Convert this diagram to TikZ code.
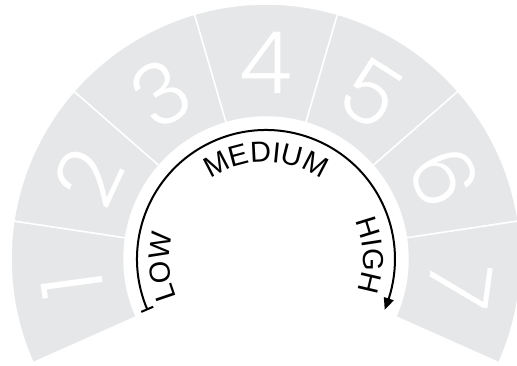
\documentclass[tikz,border=0pt]{standalone}
\usepackage{fontspec}
\setmainfont{Liberation Sans}
\newfontfamily\digitfont{Poppins Light}
\usetikzlibrary{arrows.meta,bending,decorations.text}
\definecolor{DialGray}{HTML}{E6E7E8}
\newcommand\lblfont{\fontsize{29}{29}\selectfont}

\begin{document}
\begin{tikzpicture}[
  sector/.style={fill=DialGray,draw=white,line width=1.5pt},
  digit/.style={text=white,font=\digitfont\fontsize{86}{86}\selectfont,inner sep=0pt},
  gauge/.style={line width=2pt,{Bar[width=13pt]}-{Triangle[length=12pt,width=10pt,bend]}},
  lbl/.style={decorate,decoration={text along path,text align=center,text={|\lblfont|#1}}}
]
\useasboundingbox (-266pt,-106pt) rectangle (251pt,259pt);
\foreach \i in {1,...,7}{
  \pgfmathsetmacro\aa{204-(\i-1)*228/7}
  \pgfmathsetmacro\ab{204-\i*228/7}
  \pgfmathsetmacro\am{(\aa+\ab)/2}
  \draw[sector] (\aa:142pt) arc[start angle=\aa,end angle=\ab,radius=142pt]
    -- (\ab:255pt) arc[start angle=\ab,end angle=\aa,radius=255pt] -- cycle;
  \node[digit,rotate=\am-90] (d\i) at (\am:196pt) {\i};
}
\draw[gauge] (203.4:129pt) arc[start angle=203.4,end angle=-23.2,radius=129pt];
\path[lbl=LOW] (209:97pt) arc[start angle=209,end angle=159,radius=97pt];
\path[lbl=MEDIUM] (140:97pt) arc[start angle=140,end angle=40,radius=97pt];
\path[lbl=HIGH] (27:97pt) arc[start angle=27,end angle=-23,radius=97pt];
\end{tikzpicture}
\end{document}
